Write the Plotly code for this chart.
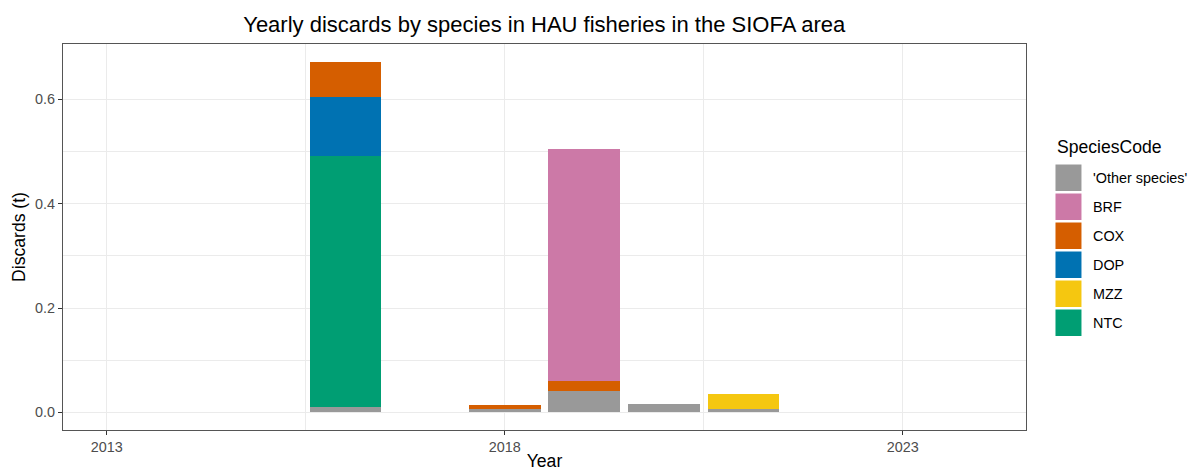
import plotly.graph_objects as go

# ---- data ----
years = [2016, 2018, 2019, 2020, 2021]
species = ["'Other species'", "BRF", "COX", "DOP", "MZZ", "NTC"]
colors = ["#999999", "#CC79A7", "#D55E00", "#0072B2", "#F5C710", "#009E73"]
other_species = [0.0096, 0.0063, 0.041, 0.0154, 0.0063]
brf = [0, 0, 0.444, 0, 0]
cox = [0.0665, 0.0077, 0.020, 0, 0]
dop = [0.113, 0, 0, 0, 0]
mzz = [0, 0, 0, 0, 0.030]
ntc = [0.482, 0, 0, 0, 0]
series = {"'Other species'": other_species, "BRF": brf, "COX": cox,
          "DOP": dop, "MZZ": mzz, "NTC": ntc}
stack_order = ["'Other species'", "NTC", "MZZ", "DOP", "COX", "BRF"]
x_ticks = [2013, 2018, 2023]
y_ticks = [0.0, 0.2, 0.4, 0.6]

W, H = 1197, 471
L, R, T, B = 62.5, 1026, 44, 430
FONT = "Liberation Sans, Arial, sans-serif"
TICK_SIZE = 14.4
TITLE_SIZE = 17.6

fig = go.Figure()
col = dict(zip(species, colors))
for sp in stack_order:
    vals = [v if v > 0 else None for v in series[sp]]
    fig.add_trace(go.Bar(x=years, y=vals, name=sp, width=0.9,
                         marker=dict(color=col[sp], line=dict(width=0)),
                         showlegend=False))

def px_x(px):
    return (px - L) / (R - L)

def px_y(py):
    return (B - py) / (B - T)

# manual ggplot-style legend
ann = [dict(text="SpeciesCode", x=px_x(1055), y=px_y(147), xref="paper", yref="paper",
            xanchor="left", yanchor="middle", showarrow=False,
            font=dict(size=TITLE_SIZE, color="#000000", family=FONT))]
shapes = []
for i, sp in enumerate(species):
    top = 164.5 + i * 29
    shapes.append(dict(type="rect", xref="paper", yref="paper",
                       x0=px_x(1055.5), x1=px_x(1081.5), y0=px_y(top + 26.5), y1=px_y(top),
                       fillcolor=col[sp], line=dict(width=0)))
    ann.append(dict(text=sp, x=px_x(1091), y=px_y(top + 13.5), xref="paper", yref="paper",
                    xanchor="left", yanchor="middle", showarrow=False,
                    font=dict(size=TICK_SIZE, color="#000000", family=FONT)))

fig.update_layout(
    width=W, height=H, barmode="stack",
    margin=dict(l=L, r=W - R, t=T, b=H - B, pad=0),
    paper_bgcolor="white", plot_bgcolor="white",
    font=dict(family=FONT),
    title=dict(text="Yearly discards by species in HAU fisheries in the SIOFA area",
               x=(L + R) / 2 / W, xanchor="center", y=1 - 24 / H, yanchor="middle",
               font=dict(size=22, color="#000000", family=FONT)),
    showlegend=False,
    annotations=ann, shapes=shapes,
)
fig.update_xaxes(
    range=[2012.45, 2024.55], tickvals=x_ticks, ticktext=[str(t) for t in x_ticks],
    showgrid=True, gridcolor="#EBEBEB", gridwidth=1.1, zeroline=False,
    ticks="outside", ticklen=4, tickcolor="#333333", tickwidth=1,
    tickfont=dict(size=TICK_SIZE, color="#4D4D4D", family=FONT),
    showline=True, linecolor="#555555", linewidth=1, mirror=True,
    minor=dict(tickvals=[2015.5, 2020.5], showgrid=True, gridcolor="#EBEBEB", gridwidth=0.6, ticks=""),
    title=dict(text="Year", font=dict(size=TITLE_SIZE, color="#000000", family=FONT), standoff=6),
    automargin=False,
)
fig.update_yaxes(
    range=[-0.0336, 0.7056], tickvals=y_ticks, ticktext=["%.1f" % t for t in y_ticks],
    showgrid=True, gridcolor="#EBEBEB", gridwidth=1.1, zeroline=False,
    ticks="outside", ticklen=4, tickcolor="#333333", tickwidth=1,
    tickfont=dict(size=TICK_SIZE, color="#4D4D4D", family=FONT),
    showline=True, linecolor="#555555", linewidth=1, mirror=True,
    minor=dict(tickvals=[0.1, 0.3, 0.5], showgrid=True, gridcolor="#EBEBEB", gridwidth=0.6, ticks=""),
    title=dict(text="Discards (t)", font=dict(size=TITLE_SIZE, color="#000000", family=FONT), standoff=4),
    automargin=False,
)

fig.write_html("out.html", config={"displayModeBar": False},
               post_script="document.body.style.margin='0px';")
